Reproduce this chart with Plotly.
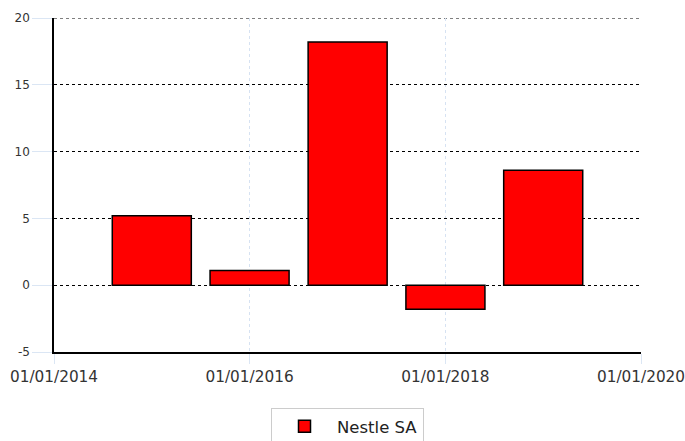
import plotly.graph_objects as go

dates = ["2015-01-01", "2016-01-01", "2017-01-01", "2018-01-01", "2019-01-01"]
values = [5.2, 1.1, 18.2, -1.8, 8.6]
series_name = "Nestle SA"
y_ticks = [-5, 0, 5, 10, 15, 20]
y_tick_labels = [str(v) for v in y_ticks]

bar_width_ms = 295 * 86400000

fig = go.Figure()
fig.add_trace(go.Bar(
    x=dates, y=values, name=series_name,
    width=[bar_width_ms] * len(dates),
    marker=dict(color="#ff0000", line=dict(color="#000000", width=1.5)),
    showlegend=True,
))

# top gridline at the upper range edge
fig.add_shape(type="line", xref="paper", x0=0, x1=1, yref="y", y0=y_ticks[-1], y1=y_ticks[-1],
              line=dict(color="#000000", width=1, dash="dot"), layer="below")

fig.update_layout(
    width=685, height=441,
    margin=dict(l=54, r=44, t=18, b=89, autoexpand=False),
    paper_bgcolor="white", plot_bgcolor="white",
    font=dict(family="DejaVu Sans", color="#333333"),
    showlegend=True,
    legend=dict(
        orientation="h", x=0.5, xanchor="center", y=-0.168, yanchor="top",
        bordercolor="#cccccc", borderwidth=1, bgcolor="white",
        font=dict(size=16.5, color="#222222"),
        itemwidth=55,
    ),
    xaxis=dict(
        type="date",
        range=["2014-01-01", "2020-01-01"],
        tick0="2014-01-01", dtick="M24",
        tickformat="%d/%m/%Y",
        tickfont=dict(size=15.3, color="#333333"),
        ticklabeloverflow="allow",
        showgrid=True, gridcolor="#d6e2f2", griddash="dot", gridwidth=1,
        ticks="outside", ticklen=10, tickcolor="#dbe6f4",
        showline=True, linecolor="#000000", linewidth=1.5,
        zeroline=False, automargin=False,
    ),
    yaxis=dict(
        range=[-5, 20],
        tickvals=y_ticks, ticktext=y_tick_labels,
        tickfont=dict(size=12, color="#333333"),
        showgrid=True, gridcolor="#000000", griddash="dot", gridwidth=1,
        ticks="outside", ticklen=20, tickcolor="#dbe6f4",
        showline=True, linecolor="#000000", linewidth=1.5,
        zeroline=False, automargin=False,
    ),
)

fig.write_html("out.html",
               config={"displayModeBar": False},
               post_script="document.body.style.margin='0';document.body.style.overflow='hidden';")
